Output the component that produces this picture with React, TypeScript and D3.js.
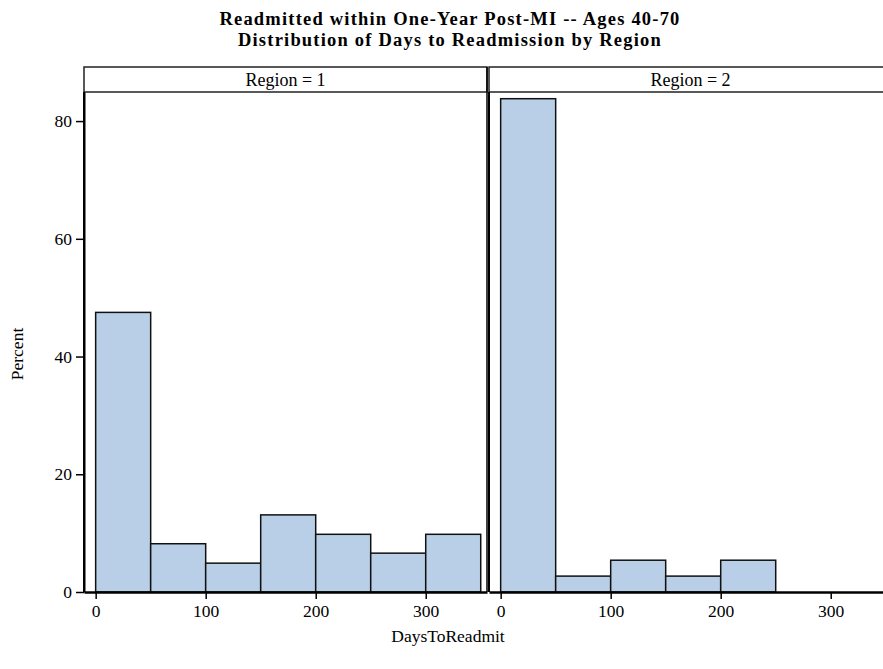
import React, { useEffect, useRef } from 'react';
import * as d3 from 'd3';

const regions = ['Region = 1', 'Region = 2'];
const binStarts = [0, 50, 100, 150, 200, 250, 300];
const binWidth = 50;
const region1Pct = [47.5, 8.2, 4.9, 13.1, 9.8, 6.6, 9.8];
const region2Pct = [83.8, 2.7, 5.4, 2.7, 5.4, 0, 0];
const xTicks = [0, 100, 200, 300];
const yTicks = [0, 20, 40, 60, 80];

const App: React.FC = () => {
  const svgRef = useRef<SVGSVGElement>(null);

  useEffect(() => {
    if (!svgRef.current) return;
    const width = 883;
    const height = 669;
    const font = '"Liberation Serif", "Times New Roman", serif';
    const fill = '#b9cfe7';

    const left = 84;
    const panelW = 403;
    const gap = 2;
    const headerTop = 67;
    const plotTop = 92;
    const plotBottom = 592;

    const svg = d3.select(svgRef.current);
    svg.selectAll('*').remove();
    svg.attr('width', width).attr('height', height);

    svg
      .append('rect')
      .attr('width', width)
      .attr('height', height)
      .attr('fill', '#fff');

    const yScale = d3.scaleLinear().domain([0, 84.94]).range([plotBottom, plotTop]);

    // titles
    svg
      .append('text')
      .attr('x', 450)
      .attr('y', 25)
      .attr('text-anchor', 'middle')
      .attr('font-family', font)
      .attr('font-weight', 'bold')
      .attr('font-size', '18.5px')
      .attr('letter-spacing', '1.2px')
      .text('Readmitted within One-Year Post-MI -- Ages 40-70');

    svg
      .append('text')
      .attr('x', 450)
      .attr('y', 46)
      .attr('text-anchor', 'middle')
      .attr('font-family', font)
      .attr('font-weight', 'bold')
      .attr('font-size', '18.5px')
      .attr('letter-spacing', '1.2px')
      .text('Distribution of Days to Readmission by Region');

    const seriesData = [region1Pct, region2Pct];

    regions.forEach((label, i) => {
      const px = left + i * (panelW + gap);
      const xScale = d3.scaleLinear().domain([-10.6, 355.7]).range([0, panelW]);
      const g = svg.append('g').attr('transform', `translate(${px},0)`);

      // header box
      g.append('rect')
        .attr('x', 0)
        .attr('y', headerTop)
        .attr('width', panelW)
        .attr('height', plotTop - headerTop)
        .attr('fill', '#fff')
        .attr('stroke', '#222')
        .attr('stroke-width', 1.5);

      g.append('text')
        .attr('x', panelW / 2)
        .attr('y', headerTop + 19)
        .attr('text-anchor', 'middle')
        .attr('font-family', font)
        .attr('font-size', '18px')
        .text(label);

      const bins = binStarts
        .map((b, j) => ({ x0: b, x1: b + binWidth, v: seriesData[i][j] }))
        .filter((d) => d.v > 0);

      g.selectAll('rect.bar')
        .data(bins)
        .enter()
        .append('rect')
        .attr('class', 'bar')
        .attr('x', (d) => xScale(d.x0))
        .attr('y', (d) => yScale(d.v))
        .attr('width', (d) => xScale(d.x1) - xScale(d.x0))
        .attr('height', (d) => plotBottom - yScale(d.v))
        .attr('fill', fill)
        .attr('stroke', '#111')
        .attr('stroke-width', 1.5);

      // panel frame lines (left and right)
      g.append('line')
        .attr('x1', 0)
        .attr('x2', 0)
        .attr('y1', plotTop)
        .attr('y2', plotBottom)
        .attr('stroke', '#000')
        .attr('stroke-width', 2);
      g.append('line')
        .attr('x1', panelW)
        .attr('x2', panelW)
        .attr('y1', headerTop)
        .attr('y2', plotBottom)
        .attr('stroke', '#000')
        .attr('stroke-width', 1.5);

      // x axis
      const xAxis = g
        .append('g')
        .attr('transform', `translate(0,${plotBottom})`)
        .call(d3.axisBottom(xScale).tickValues(xTicks).tickSize(7).tickSizeOuter(0).tickPadding(6));
      xAxis.attr('font-size', null).attr('font-family', null);
      xAxis.select('.domain').attr('stroke-width', 2.5);
      xAxis.selectAll('.tick line').attr('stroke-width', 1.5);
      xAxis
        .selectAll('text')
        .style('font-family', font)
        .style('font-size', '17.5px')
        .attr('fill', '#000');

      if (i === 0) {
        const yAxis = g
          .append('g')
          .call(d3.axisLeft(yScale).tickValues(yTicks).tickSize(8).tickSizeOuter(0).tickPadding(4));
        yAxis.attr('font-size', null).attr('font-family', null);
        yAxis.select('.domain').attr('stroke-width', 2);
        yAxis.selectAll('.tick line').attr('stroke-width', 1.5);
        yAxis
          .selectAll('text')
          .style('font-family', font)
          .style('font-size', '17.5px')
          .attr('fill', '#000');
      }
    });

    svg
      .append('text')
      .attr('transform', `translate(23,${(plotTop + plotBottom) / 2 + 12}) rotate(-90)`)
      .attr('text-anchor', 'middle')
      .attr('font-family', font)
      .attr('font-size', '17.5px')
      .text('Percent');

    svg
      .append('text')
      .attr('x', 448)
      .attr('y', 642)
      .attr('text-anchor', 'middle')
      .attr('font-family', font)
      .attr('font-size', '17.5px')
      .text('DaysToReadmit');
  }, []);

  return (
    <svg
      ref={svgRef}
      style={{ position: 'absolute', left: 0, top: 0, display: 'block', overflow: 'hidden' }}
    />
  );
};

export default App;
